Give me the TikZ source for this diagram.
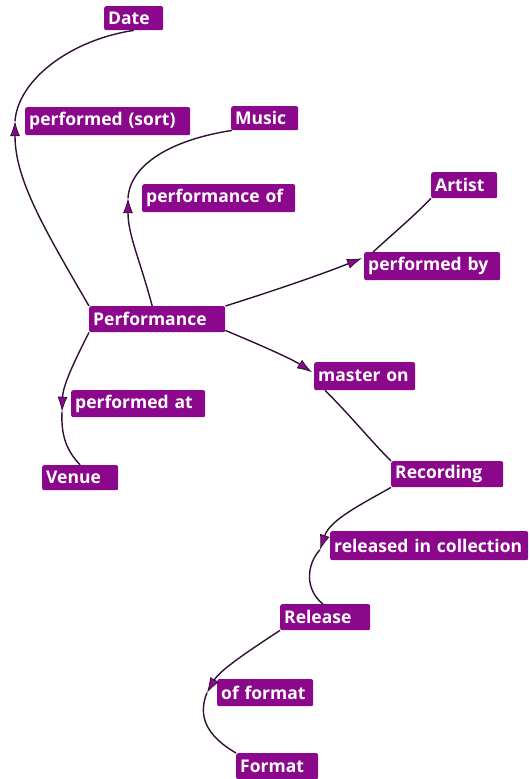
\documentclass[tikz,border=0pt]{standalone}
\usepackage{fontspec}
\setmainfont{Open Sans}
\usetikzlibrary{arrows.meta}
\definecolor{boxpurple}{RGB}{139,8,140}
\definecolor{linkdark}{RGB}{48,16,52}
\tikzset{
  lbl/.style={fill=boxpurple, text=white, anchor=north west, inner xsep=4pt, inner ysep=0pt,
    rounded corners=2pt, align=left, font=\fontsize{17.5}{17.5}\selectfont\bfseries},
  link/.style={draw=linkdark, line width=1.4pt},
  arr/.style={link, -{Latex[length=15pt,width=10pt,fill=boxpurple,line width=0.8pt]}}
}
\begin{document}
\begin{tikzpicture}[x=1pt,y=-1pt]
\useasboundingbox[fill=white] (0,0) rectangle (530,779);

% entity and relation boxes
\node[lbl, text width=51pt,  minimum height=24pt] (date)    at (104,6)   {Date};
\node[lbl, text width=157pt, minimum height=28pt] (psort)   at (25,107)  {performed (sort)};
\node[lbl, text width=59pt,  minimum height=24pt] (music)   at (231,106) {Music};
\node[lbl, text width=145pt, minimum height=28pt] (perfof)  at (142,184) {performance of};
\node[lbl, text width=58pt,  minimum height=26pt] (artist)  at (431,172) {Artist};
\node[lbl, text width=128pt, minimum height=28pt] (perfby)  at (364,252) {performed by};
\node[lbl, text width=128pt, minimum height=26pt] (perf)    at (89,306)  {Performance};
\node[lbl, text width=93pt,  minimum height=28pt] (master)  at (314,362) {master on};
\node[lbl, text width=126pt, minimum height=27pt] (perfat)  at (71,390)  {performed at};
\node[lbl, text width=68pt,  minimum height=25pt] (venue)   at (42,465)  {Venue};
\node[lbl, text width=104pt, minimum height=26pt] (rec)     at (391,461) {Recording};
\node[lbl, text width=190pt, minimum height=29pt] (relcol)  at (330,531) {released in collection};
\node[lbl, text width=82pt,  minimum height=26pt] (release) at (280,604) {Release};
\node[lbl, text width=88pt,  minimum height=27pt] (offmt)   at (217,679) {of format};
\node[lbl, text width=74pt,  minimum height=26pt] (format)  at (236,753) {Format};

% Performance -> performed (sort) -> Date
\draw[arr] (perf.north west) .. controls (45,230) and (15,180) .. ([xshift=-10pt]psort.west);
\draw[link] ([xshift=-10pt]psort.west) .. controls (18,80) and (70,40) .. (date.south);

% Performance -> performance of -> Music
\draw[arr] ([xshift=-5pt]perf.north) .. controls (140,260) and (128,235) .. ([xshift=-14pt]perfof.west);
\draw[link] ([xshift=-14pt]perfof.west) .. controls (130,165) and (170,140) .. ([xshift=1pt]music.south west);

% Performance -> performed by -> Artist
\draw[arr] (perf.north east) .. controls (270,292) and (320,275) .. ([xshift=-2pt,yshift=8pt]perfby.west);
\draw[link] ([xshift=9pt]perfby.north west) .. controls (395,232) and (415,215) .. (artist.south west);

% Performance -> master on -> Recording
\draw[arr] ([yshift=2pt]perf.south east) .. controls (260,345) and (290,358) .. ([xshift=-2pt,yshift=4pt]master.west);
\draw[link] ([xshift=11pt]master.south west) .. controls (350,415) and (370,440) .. (rec.north west);

% Performance -> performed at -> Venue
\draw[arr] (perf.south west) .. controls (75,360) and (63,385) .. ([xshift=-9pt,yshift=-8pt]perfat.west);
\draw[link] ([xshift=-9pt,yshift=-8pt]perfat.west) .. controls (61,435) and (66,450) .. (venue.north);

% Recording -> released in collection -> Release
\draw[arr] (rec.south west) .. controls (360,505) and (330,520) .. ([xshift=-10pt,yshift=-4pt]relcol.west);
\draw[link] ([xshift=-10pt,yshift=-4pt]relcol.west) .. controls (306,565) and (305,590) .. ([xshift=43pt]release.north west);

% Release -> of format -> Format
\draw[arr] (release.south west) .. controls (250,650) and (220,670) .. ([xshift=-10pt]offmt.west);
\draw[link] ([xshift=-10pt]offmt.west) .. controls (198,715) and (205,735) .. (format.north west);
\end{tikzpicture}
\end{document}
